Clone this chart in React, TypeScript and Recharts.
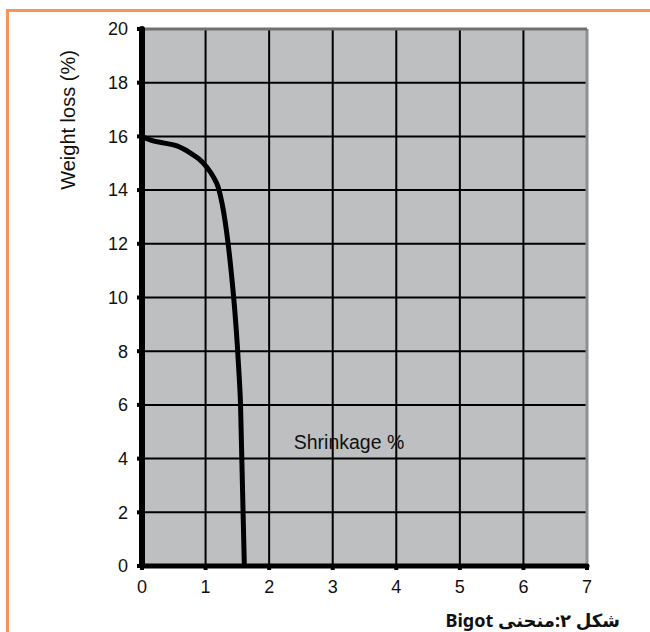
import { LineChart, Line, XAxis, YAxis, CartesianGrid, ReferenceLine, Label } from "recharts";

// Bigot curve: shrinkage (%) vs weight loss (%)
const shrinkage = [0, 0.15, 0.35, 0.55, 0.75, 0.9, 1.02, 1.12, 1.2, 1.26, 1.31, 1.36, 1.41, 1.46, 1.5, 1.53, 1.55, 1.565, 1.58, 1.595, 1.61];
const weightLoss = [16, 15.85, 15.75, 15.65, 15.4, 15.15, 14.85, 14.5, 14.1, 13.5, 12.8, 11.9, 10.8, 9.5, 8.2, 7, 6, 4.5, 3, 1.5, 0];

const xTicks = [0, 1, 2, 3, 4, 5, 6, 7];
const yTicks = [0, 2, 4, 6, 8, 10, 12, 14, 16, 18, 20];

const yLabel = "Weight loss (%)";
const xLabel = "Shrinkage %";
const caption = "شکل ۲:منحنی Bigot";

const data = shrinkage.map((x, i) => ({ x, y: weightLoss[i] }));

const FONT = "'Liberation Sans', Arial, sans-serif";
const ORANGE = "#f7945a";

export default function App() {
  return (
    <div
      style={{
        position: "absolute",
        top: 0,
        left: 0,
        width: 650,
        height: 632,
        background: "#fff",
        overflow: "hidden",
      }}
    >
      {/* orange frame (top + left only) */}
      <div style={{ position: "absolute", left: 6, top: 9, width: 644, height: 3, background: ORANGE }} />
      <div style={{ position: "absolute", left: 6, top: 9, width: 3, height: 623, background: ORANGE }} />

      <LineChart
        width={650}
        height={632}
        data={data}
        margin={{ top: 29, right: 63, left: 0, bottom: 0 }}
      >
        <CartesianGrid
          fill="#bebfc1"
          stroke="#000"
          strokeWidth={2}
          strokeOpacity={1}
        />
        <ReferenceLine x={7} stroke="#8e8f92" strokeWidth={3} ifOverflow="visible" />
        <ReferenceLine y={20} stroke="#707174" strokeWidth={3} ifOverflow="visible" />
        <XAxis
          type="number"
          dataKey="x"
          domain={[0, 7]}
          ticks={xTicks}
          height={66}
          axisLine={{ stroke: "#000", strokeWidth: 5, strokeLinecap: "round" }}
          tickLine={{ stroke: "#000", strokeWidth: 4 }}
          tickSize={4}
          tickMargin={10}
          tick={{ fill: "#111", fontSize: 18, fontFamily: FONT }}
          allowDataOverflow
        >
          <Label
            content={() => (
              <text
                x={349}
                y={442}
                textAnchor="middle"
                dominantBaseline="central"
                fontSize={19.5}
                fontFamily={FONT}
                fill="#111"
              >
                {xLabel}
              </text>
            )}
          />
        </XAxis>
        <YAxis
          type="number"
          dataKey="y"
          domain={[0, 20]}
          ticks={yTicks}
          width={142}
          axisLine={{ stroke: "#000", strokeWidth: 6, strokeLinecap: "round" }}
          tickLine={{ stroke: "#000", strokeWidth: 4 }}
          tickSize={5}
          tickMargin={9}
          tick={{ fill: "#111", fontSize: 18, fontFamily: FONT }}
          allowDataOverflow
        >
          <Label
            content={() => (
              <text
                x={68}
                y={120}
                transform="rotate(-90, 68, 120)"
                textAnchor="middle"
                dominantBaseline="central"
                fontSize={20}
                fontFamily={FONT}
                fill="#111"
              >
                {yLabel}
              </text>
            )}
          />
        </YAxis>
        <Line
          type="monotone"
          dataKey="y"
          stroke="#000"
          strokeWidth={5}
          dot={false}
          activeDot={false}
          isAnimationActive={false}
        />
      </LineChart>

      <div
        dir="rtl"
        style={{
          position: "absolute",
          right: 30,
          top: 607,
          fontSize: 18,
          fontWeight: "bold",
          fontFamily: "'Noto Sans', 'DejaVu Sans', sans-serif",
          color: "#111",
          lineHeight: "26px",
          whiteSpace: "nowrap",
        }}
      >
        {caption}
      </div>
    </div>
  );
}
